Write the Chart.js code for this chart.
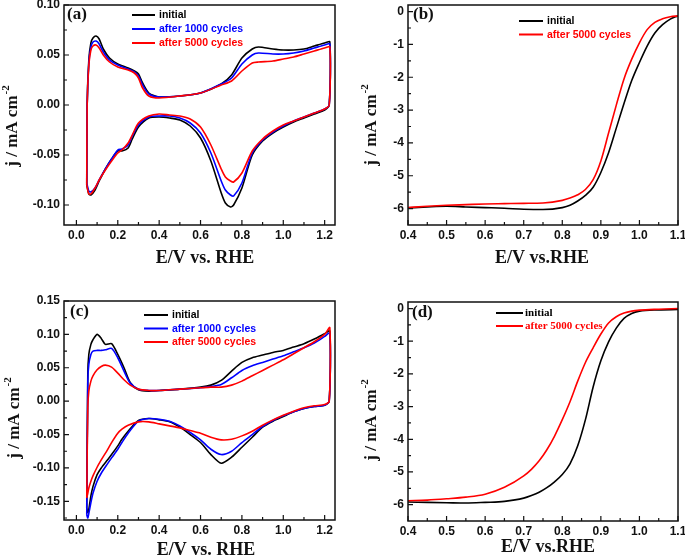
<!DOCTYPE html>
<html>
<head>
<meta charset="utf-8">
<title>CV and ORR durability curves</title>
<script src="https://cdn.jsdelivr.net/npm/chart.js@4.4.0/dist/chart.umd.min.js"></script>
<style>
  body { margin: 0; background: #fff; }
  #wrap { position: relative; width: 685px; height: 560px; overflow: hidden; background: #fff; }
  #wrap canvas { position: absolute; }
</style>
</head>
<body>
<div id="wrap">
  <canvas id="panelA" width="342" height="278" style="left:0;top:0"></canvas>
  <canvas id="panelB" width="343" height="278" style="left:342px;top:0"></canvas>
  <canvas id="panelC" width="342" height="282" style="left:0;top:278px"></canvas>
  <canvas id="panelD" width="343" height="282" style="left:342px;top:278px"></canvas>
</div>
<script>
// ---- (a) CV, anodic sweep then cathodic sweep (E in V, j in mA cm-2)
const cvA_anE = [0.05, 0.052, 0.06, 0.07, 0.08, 0.095, 0.11, 0.13, 0.16, 0.2, 0.25, 0.28, 0.3, 0.32, 0.35, 0.4, 0.5, 0.6, 0.7, 0.75, 0.8, 0.85, 0.88, 0.95, 1.0, 1.05, 1.1, 1.15, 1.2, 1.225];
const cvA_an_initial = [-0.08, 0.0, 0.045, 0.062, 0.067, 0.069, 0.066, 0.056, 0.047, 0.041, 0.037, 0.034, 0.031, 0.022, 0.012, 0.008, 0.009, 0.012, 0.021, 0.03, 0.047, 0.056, 0.058, 0.056, 0.055, 0.055, 0.056, 0.059, 0.062, 0.063];
const cvA_an_1000 = [-0.078, 0.0, 0.042, 0.058, 0.063, 0.064, 0.061, 0.053, 0.045, 0.04, 0.036, 0.033, 0.029, 0.02, 0.011, 0.008, 0.009, 0.012, 0.021, 0.027, 0.041, 0.05, 0.052, 0.051, 0.051, 0.052, 0.054, 0.057, 0.06, 0.061];
const cvA_an_5000 = [-0.08, 0.0, 0.04, 0.055, 0.059, 0.06, 0.057, 0.05, 0.043, 0.038, 0.035, 0.032, 0.027, 0.017, 0.009, 0.007, 0.009, 0.012, 0.02, 0.024, 0.034, 0.042, 0.043, 0.044, 0.046, 0.048, 0.051, 0.054, 0.057, 0.058];
const cvA_caE = [1.222, 1.2, 1.15, 1.1, 1.05, 1.0, 0.95, 0.9, 0.85, 0.8, 0.76, 0.745, 0.72, 0.7, 0.65, 0.6, 0.55, 0.5, 0.45, 0.4, 0.35, 0.3, 0.27, 0.25, 0.22, 0.2, 0.17, 0.14, 0.11, 0.09, 0.07, 0.06, 0.05];
const cvA_ca_initial = [0.0, -0.005, -0.009, -0.013, -0.017, -0.022, -0.028, -0.036, -0.05, -0.083, -0.1, -0.102, -0.098, -0.088, -0.056, -0.033, -0.021, -0.015, -0.013, -0.012, -0.013, -0.022, -0.034, -0.043, -0.046, -0.046, -0.054, -0.064, -0.076, -0.085, -0.09, -0.089, -0.08];
const cvA_ca_1000 = [0.0, -0.004, -0.008, -0.012, -0.016, -0.021, -0.027, -0.035, -0.048, -0.078, -0.091, -0.09, -0.085, -0.076, -0.048, -0.028, -0.018, -0.013, -0.011, -0.011, -0.012, -0.02, -0.031, -0.04, -0.044, -0.045, -0.054, -0.064, -0.075, -0.083, -0.087, -0.086, -0.078];
const cvA_ca_5000 = [0.0, -0.004, -0.008, -0.012, -0.016, -0.02, -0.026, -0.034, -0.046, -0.068, -0.077, -0.076, -0.072, -0.064, -0.04, -0.022, -0.014, -0.011, -0.01, -0.009, -0.011, -0.018, -0.03, -0.038, -0.045, -0.048, -0.056, -0.065, -0.075, -0.083, -0.089, -0.089, -0.08];

// ---- (b) ORR polarization
const lsvB_E = [0.4, 0.45, 0.5, 0.55, 0.6, 0.65, 0.7, 0.75, 0.8, 0.82, 0.84, 0.86, 0.88, 0.9, 0.92, 0.94, 0.96, 0.98, 1.0, 1.02, 1.04, 1.06, 1.08, 1.1];
const lsvB_initial = [-5.98, -5.95, -5.93, -5.95, -5.97, -5.99, -6.02, -6.03, -5.97, -5.9, -5.77, -5.6, -5.35, -4.9, -4.3, -3.55, -2.8, -2.1, -1.55, -1.05, -0.65, -0.4, -0.23, -0.13];
const lsvB_5000 = [-5.97, -5.93, -5.9, -5.88, -5.86, -5.85, -5.84, -5.83, -5.75, -5.68, -5.58, -5.42, -5.12, -4.55, -3.7, -2.85, -2.05, -1.45, -0.95, -0.55, -0.33, -0.22, -0.16, -0.13];

// ---- (c) CV
const cvC_anE = [0.05, 0.055, 0.06, 0.07, 0.08, 0.1, 0.12, 0.14, 0.17, 0.2, 0.23, 0.26, 0.3, 0.35, 0.4, 0.5, 0.6, 0.65, 0.7, 0.75, 0.8, 0.85, 0.9, 0.95, 1.0, 1.05, 1.1, 1.15, 1.2, 1.225];
const cvC_an_initial = [-0.16, 0.04, 0.07, 0.085, 0.092, 0.1, 0.094, 0.085, 0.086, 0.07, 0.05, 0.028, 0.017, 0.015, 0.016, 0.018, 0.021, 0.024, 0.031, 0.045, 0.058, 0.065, 0.069, 0.073, 0.076, 0.081, 0.086, 0.093, 0.101, 0.105];
const cvC_an_1000 = [-0.17, 0.03, 0.055, 0.07, 0.075, 0.076, 0.076, 0.077, 0.079, 0.065, 0.045, 0.027, 0.018, 0.016, 0.016, 0.018, 0.02, 0.022, 0.025, 0.035, 0.046, 0.053, 0.058, 0.063, 0.068, 0.074, 0.08, 0.087, 0.097, 0.102];
const cvC_an_5000 = [-0.145, -0.01, 0.015, 0.03, 0.038, 0.047, 0.052, 0.054, 0.051, 0.042, 0.032, 0.024, 0.018, 0.016, 0.016, 0.018, 0.02, 0.021, 0.021, 0.024, 0.03, 0.038, 0.046, 0.054, 0.062, 0.071, 0.08, 0.089, 0.1, 0.11];
const cvC_caE = [1.222, 1.2, 1.15, 1.1, 1.05, 1.0, 0.95, 0.9, 0.85, 0.8, 0.75, 0.7, 0.65, 0.6, 0.55, 0.5, 0.45, 0.4, 0.35, 0.3, 0.25, 0.22, 0.2, 0.17, 0.15, 0.12, 0.1, 0.08, 0.07, 0.06, 0.055, 0.05];
const cvC_ca_initial = [0.0, -0.006, -0.008, -0.011, -0.016, -0.023, -0.03, -0.039, -0.054, -0.069, -0.084, -0.093, -0.08, -0.062, -0.05, -0.039, -0.031, -0.028, -0.026, -0.029, -0.045, -0.057, -0.067, -0.08, -0.088, -0.1, -0.11, -0.128, -0.142, -0.162, -0.167, -0.16];
const cvC_ca_1000 = [0.0, -0.006, -0.008, -0.011, -0.016, -0.022, -0.029, -0.038, -0.05, -0.062, -0.075, -0.08, -0.072, -0.058, -0.047, -0.037, -0.03, -0.027, -0.026, -0.03, -0.048, -0.062, -0.072, -0.085, -0.094, -0.108, -0.12, -0.138, -0.152, -0.168, -0.175, -0.17];
const cvC_ca_5000 = [0.0, -0.005, -0.007, -0.01, -0.015, -0.021, -0.028, -0.036, -0.045, -0.052, -0.057, -0.058, -0.054, -0.048, -0.044, -0.04, -0.037, -0.034, -0.031, -0.031, -0.036, -0.042, -0.048, -0.062, -0.073, -0.088, -0.099, -0.112, -0.12, -0.13, -0.138, -0.145];

// ---- (d) ORR polarization
const lsvD_E = [0.4, 0.45, 0.5, 0.55, 0.6, 0.65, 0.7, 0.72, 0.74, 0.76, 0.78, 0.8, 0.82, 0.84, 0.86, 0.88, 0.9, 0.92, 0.94, 0.96, 0.98, 1.0, 1.05, 1.1];
const lsvD_initial = [-5.92, -5.93, -5.94, -5.95, -5.93, -5.9, -5.8, -5.72, -5.62, -5.48, -5.3, -5.08, -4.75, -4.2, -3.4, -2.4, -1.6, -1.02, -0.6, -0.3, -0.15, -0.08, -0.04, -0.03];
const lsvD_5000 = [-5.88, -5.86, -5.82, -5.77, -5.68, -5.47, -5.12, -4.92, -4.66, -4.32, -3.9, -3.4, -2.85, -2.22, -1.65, -1.2, -0.78, -0.44, -0.25, -0.14, -0.08, -0.05, -0.02, 0.0];

// ---- axes
const cvXTicks = [0, 0.2, 0.4, 0.6, 0.8, 1.0, 1.2];
const cvAYTicks = [-0.10, -0.05, 0, 0.05, 0.10];
const cvCYTicks = [-0.15, -0.10, -0.05, 0, 0.05, 0.10, 0.15];
const lsvXTicks = [0.4, 0.5, 0.6, 0.7, 0.8, 0.9, 1.0, 1.1];
const lsvYTicks = [-6, -5, -4, -3, -2, -1, 0];

const seriesNames = ['initial', 'after 1000 cycles', 'after 5000 cycles'];
const BLACK = '#000000', BLUE = '#0000ff', RED = '#ff0000';
const SANS = '"Liberation Sans", Arial, sans-serif';
const SERIF = '"Liberation Serif", "Times New Roman", serif';

function pts(xs, ys) { return xs.map((x, i) => ({ x: x, y: ys[i] })); }
function loop(anE, an, caE, ca) { return pts(anE, an).concat(pts(caE, ca)); }

// minor ticks halfway between majors (and half a step outside, if still inside the range)
function minors(t, min, max) {
  const step = t[1] - t[0], out = [];
  for (let i = 0; i < t.length - 1; i++) out.push((t[i] + t[i + 1]) / 2);
  out.unshift(t[0] - step / 2); out.push(t[t.length - 1] + step / 2);
  return out.filter(v => v > min + 1e-9 && v < max - 1e-9);
}

const decor = {
  id: 'decor',
  afterDraw(chart, args, o) {
    const ctx = chart.ctx, a = chart.chartArea, x = chart.scales.x, y = chart.scales.y;
    ctx.save();
    ctx.strokeStyle = '#111';
    ctx.lineWidth = 1.5;
    ctx.strokeRect(a.left, a.top, a.right - a.left, a.bottom - a.top);

    // inward ticks on left and bottom
    ctx.lineWidth = 1.2;
    ctx.beginPath();
    o.xTicks.forEach(v => { const p = x.getPixelForValue(v); ctx.moveTo(p, a.bottom); ctx.lineTo(p, a.bottom - 5); });
    minors(o.xTicks, x.min, x.max).forEach(v => { const p = x.getPixelForValue(v); ctx.moveTo(p, a.bottom); ctx.lineTo(p, a.bottom - 3); });
    o.yTicks.forEach(v => { const p = y.getPixelForValue(v); ctx.moveTo(a.left, p); ctx.lineTo(a.left + 5, p); });
    minors(o.yTicks, y.min, y.max).forEach(v => { const p = y.getPixelForValue(v); ctx.moveTo(a.left, p); ctx.lineTo(a.left + 3, p); });
    ctx.stroke();

    // axis titles
    ctx.fillStyle = '#111';
    ctx.textBaseline = 'middle';
    ctx.textAlign = 'center';
    ctx.font = 'bold 18px ' + SERIF;
    ctx.fillText(o.xTitle, o.xTitleAt[0], o.xTitleAt[1]);

    ctx.save();
    ctx.translate(o.yTitleAt[0], o.yTitleAt[1]);
    ctx.rotate(-Math.PI / 2);
    ctx.textAlign = 'left';
    ctx.font = 'bold 17px ' + SERIF;
    const main = 'j / mA cm', w1 = ctx.measureText(main).width;
    ctx.font = 'bold 11px ' + SERIF;
    const w2 = ctx.measureText('-2').width;
    const x0 = -(w1 + w2 + 1) / 2;
    ctx.font = 'bold 17px ' + SERIF;
    ctx.fillText(main, x0, 0);
    ctx.font = 'bold 11px ' + SERIF;
    ctx.fillText('-2', x0 + w1 + 1, -7);
    ctx.restore();

    // panel letter
    ctx.textAlign = 'left';
    ctx.font = 'bold 17px ' + SERIF;
    ctx.fillText(o.label, o.labelAt[0], o.labelAt[1]);

    // legend, drawn in the order initial -> after 5000
    const L = o.legend;
    const sets = chart.data.datasets.slice().reverse();
    ctx.font = L.font;
    sets.forEach((ds, i) => {
      const yy = L.y0 + i * L.dy;
      ctx.strokeStyle = ds.borderColor;
      ctx.lineWidth = 2;
      ctx.beginPath(); ctx.moveTo(L.x1, yy); ctx.lineTo(L.x2, yy); ctx.stroke();
      ctx.fillStyle = ds.borderColor;
      ctx.fillText(ds.label, L.tx, yy + 0.5);
    });
    ctx.restore();
  }
};

function axis(pos, min, max, ticks, digits, size) {
  const isX = pos === 'bottom';
  return {
    type: 'linear', position: pos, min: min, max: max,
    afterBuildTicks: s => { s.ticks = ticks.map(v => ({ value: v })); },
    afterFit: s => {
      if (isX) s.height = size; else s.width = size;
      s.paddingLeft = 0; s.paddingRight = 0; s.paddingTop = 0; s.paddingBottom = 0;
    },
    grid: { display: false, drawTicks: false },
    border: { display: false },
    ticks: {
      autoSkip: false, maxRotation: 0, padding: isX ? 3 : 4, color: '#111',
      font: { family: SANS, size: 12, weight: 'bold' },
      callback: v => (Math.abs(v) < 1e-9 ? 0 : v).toFixed(digits)
    }
  };
}

function panel(id, c) {
  return new Chart(document.getElementById(id), {
    type: 'scatter',
    data: {
      datasets: c.series.map(s => ({
        label: s.label, data: s.data, borderColor: s.color, backgroundColor: s.color,
        showLine: true, pointRadius: 0, borderWidth: 1.6,
        tension: c.tension, cubicInterpolationMode: c.mode
      }))
    },
    options: {
      responsive: false, animation: false, devicePixelRatio: 1,
      layout: { padding: { left: 0, right: c.padRight, top: c.padTop, bottom: 0 } },
      plugins: { legend: { display: false }, tooltip: { enabled: false }, decor: c.decor },
      scales: {
        x: axis('bottom', c.x[0], c.x[1], c.xTicks, 1, c.xSize),
        y: axis('left', c.y[0], c.y[1], c.yTicks, c.yDigits, c.ySize)
      }
    },
    plugins: [decor]
  });
}

const legendSans = 'bold 10.5px ' + SANS;

panel('panelA', {
  series: [
    { label: seriesNames[2], color: RED, data: loop(cvA_anE, cvA_an_5000, cvA_caE, cvA_ca_5000) },
    { label: seriesNames[1], color: BLUE, data: loop(cvA_anE, cvA_an_1000, cvA_caE, cvA_ca_1000) },
    { label: seriesNames[0], color: BLACK, data: loop(cvA_anE, cvA_an_initial, cvA_caE, cvA_ca_initial) }
  ],
  tension: 0.25, mode: 'default',
  x: [-0.06, 1.25], y: [-0.12, 0.10], xTicks: cvXTicks, yTicks: cvAYTicks, yDigits: 2,
  padTop: 5, padRight: 7, xSize: 53, ySize: 64,
  decor: {
    xTicks: cvXTicks, yTicks: cvAYTicks, xTitle: 'E/V vs. RHE', xTitleAt: [205, 258], yTitleAt: [13, 126],
    label: '(a)', labelAt: [67, 15],
    legend: { x1: 132, x2: 155, tx: 159, y0: 15, dy: 14, font: legendSans }
  }
});

panel('panelB', {
  series: [
    { label: seriesNames[2], color: RED, data: pts(lsvB_E, lsvB_5000) },
    { label: seriesNames[0], color: BLACK, data: pts(lsvB_E, lsvB_initial) }
  ],
  tension: 0.4, mode: 'monotone',
  x: [0.4, 1.1], y: [-6.5, 0.2], xTicks: lsvXTicks, yTicks: lsvYTicks, yDigits: 0,
  padTop: 5, padRight: 7, xSize: 53, ySize: 66,
  decor: {
    xTicks: lsvXTicks, yTicks: lsvYTicks, xTitle: 'E/V vs.RHE', xTitleAt: [200, 258], yTitleAt: [30, 125],
    label: '(b)', labelAt: [71, 15],
    legend: { x1: 177, x2: 201, tx: 205, y0: 21, dy: 13.5, font: legendSans }
  }
});

panel('panelC', {
  series: [
    { label: seriesNames[2], color: RED, data: loop(cvC_anE, cvC_an_5000, cvC_caE, cvC_ca_5000) },
    { label: seriesNames[1], color: BLUE, data: loop(cvC_anE, cvC_an_1000, cvC_caE, cvC_ca_1000) },
    { label: seriesNames[0], color: BLACK, data: loop(cvC_anE, cvC_an_initial, cvC_caE, cvC_ca_initial) }
  ],
  tension: 0.25, mode: 'default',
  x: [-0.06, 1.25], y: [-0.178, 0.15], xTicks: cvXTicks, yTicks: cvCYTicks, yDigits: 2,
  padTop: 23, padRight: 7, xSize: 40, ySize: 64,
  decor: {
    xTicks: cvXTicks, yTicks: cvCYTicks, xTitle: 'E/V vs. RHE', xTitleAt: [206, 272], yTitleAt: [15, 140],
    label: '(c)', labelAt: [70, 34],
    legend: { x1: 144, x2: 168, tx: 172, y0: 37, dy: 13.5, font: legendSans }
  }
});

panel('panelD', {
  series: [
    { label: seriesNames[2], color: RED, data: pts(lsvD_E, lsvD_5000) },
    { label: seriesNames[0], color: BLACK, data: pts(lsvD_E, lsvD_initial) }
  ],
  tension: 0.4, mode: 'monotone',
  x: [0.4, 1.1], y: [-6.5, 0.2], xTicks: lsvXTicks, yTicks: lsvYTicks, yDigits: 0,
  padTop: 24, padRight: 7, xSize: 39, ySize: 66,
  decor: {
    xTicks: lsvXTicks, yTicks: lsvYTicks, xTitle: 'E/V vs.RHE', xTitleAt: [206, 269], yTitleAt: [30, 142],
    label: '(d)', labelAt: [70, 35],
    legend: { x1: 154, x2: 181, tx: 183, y0: 35, dy: 13, font: 'bold 11px ' + SERIF }
  }
});
</script>
</body>
</html>
